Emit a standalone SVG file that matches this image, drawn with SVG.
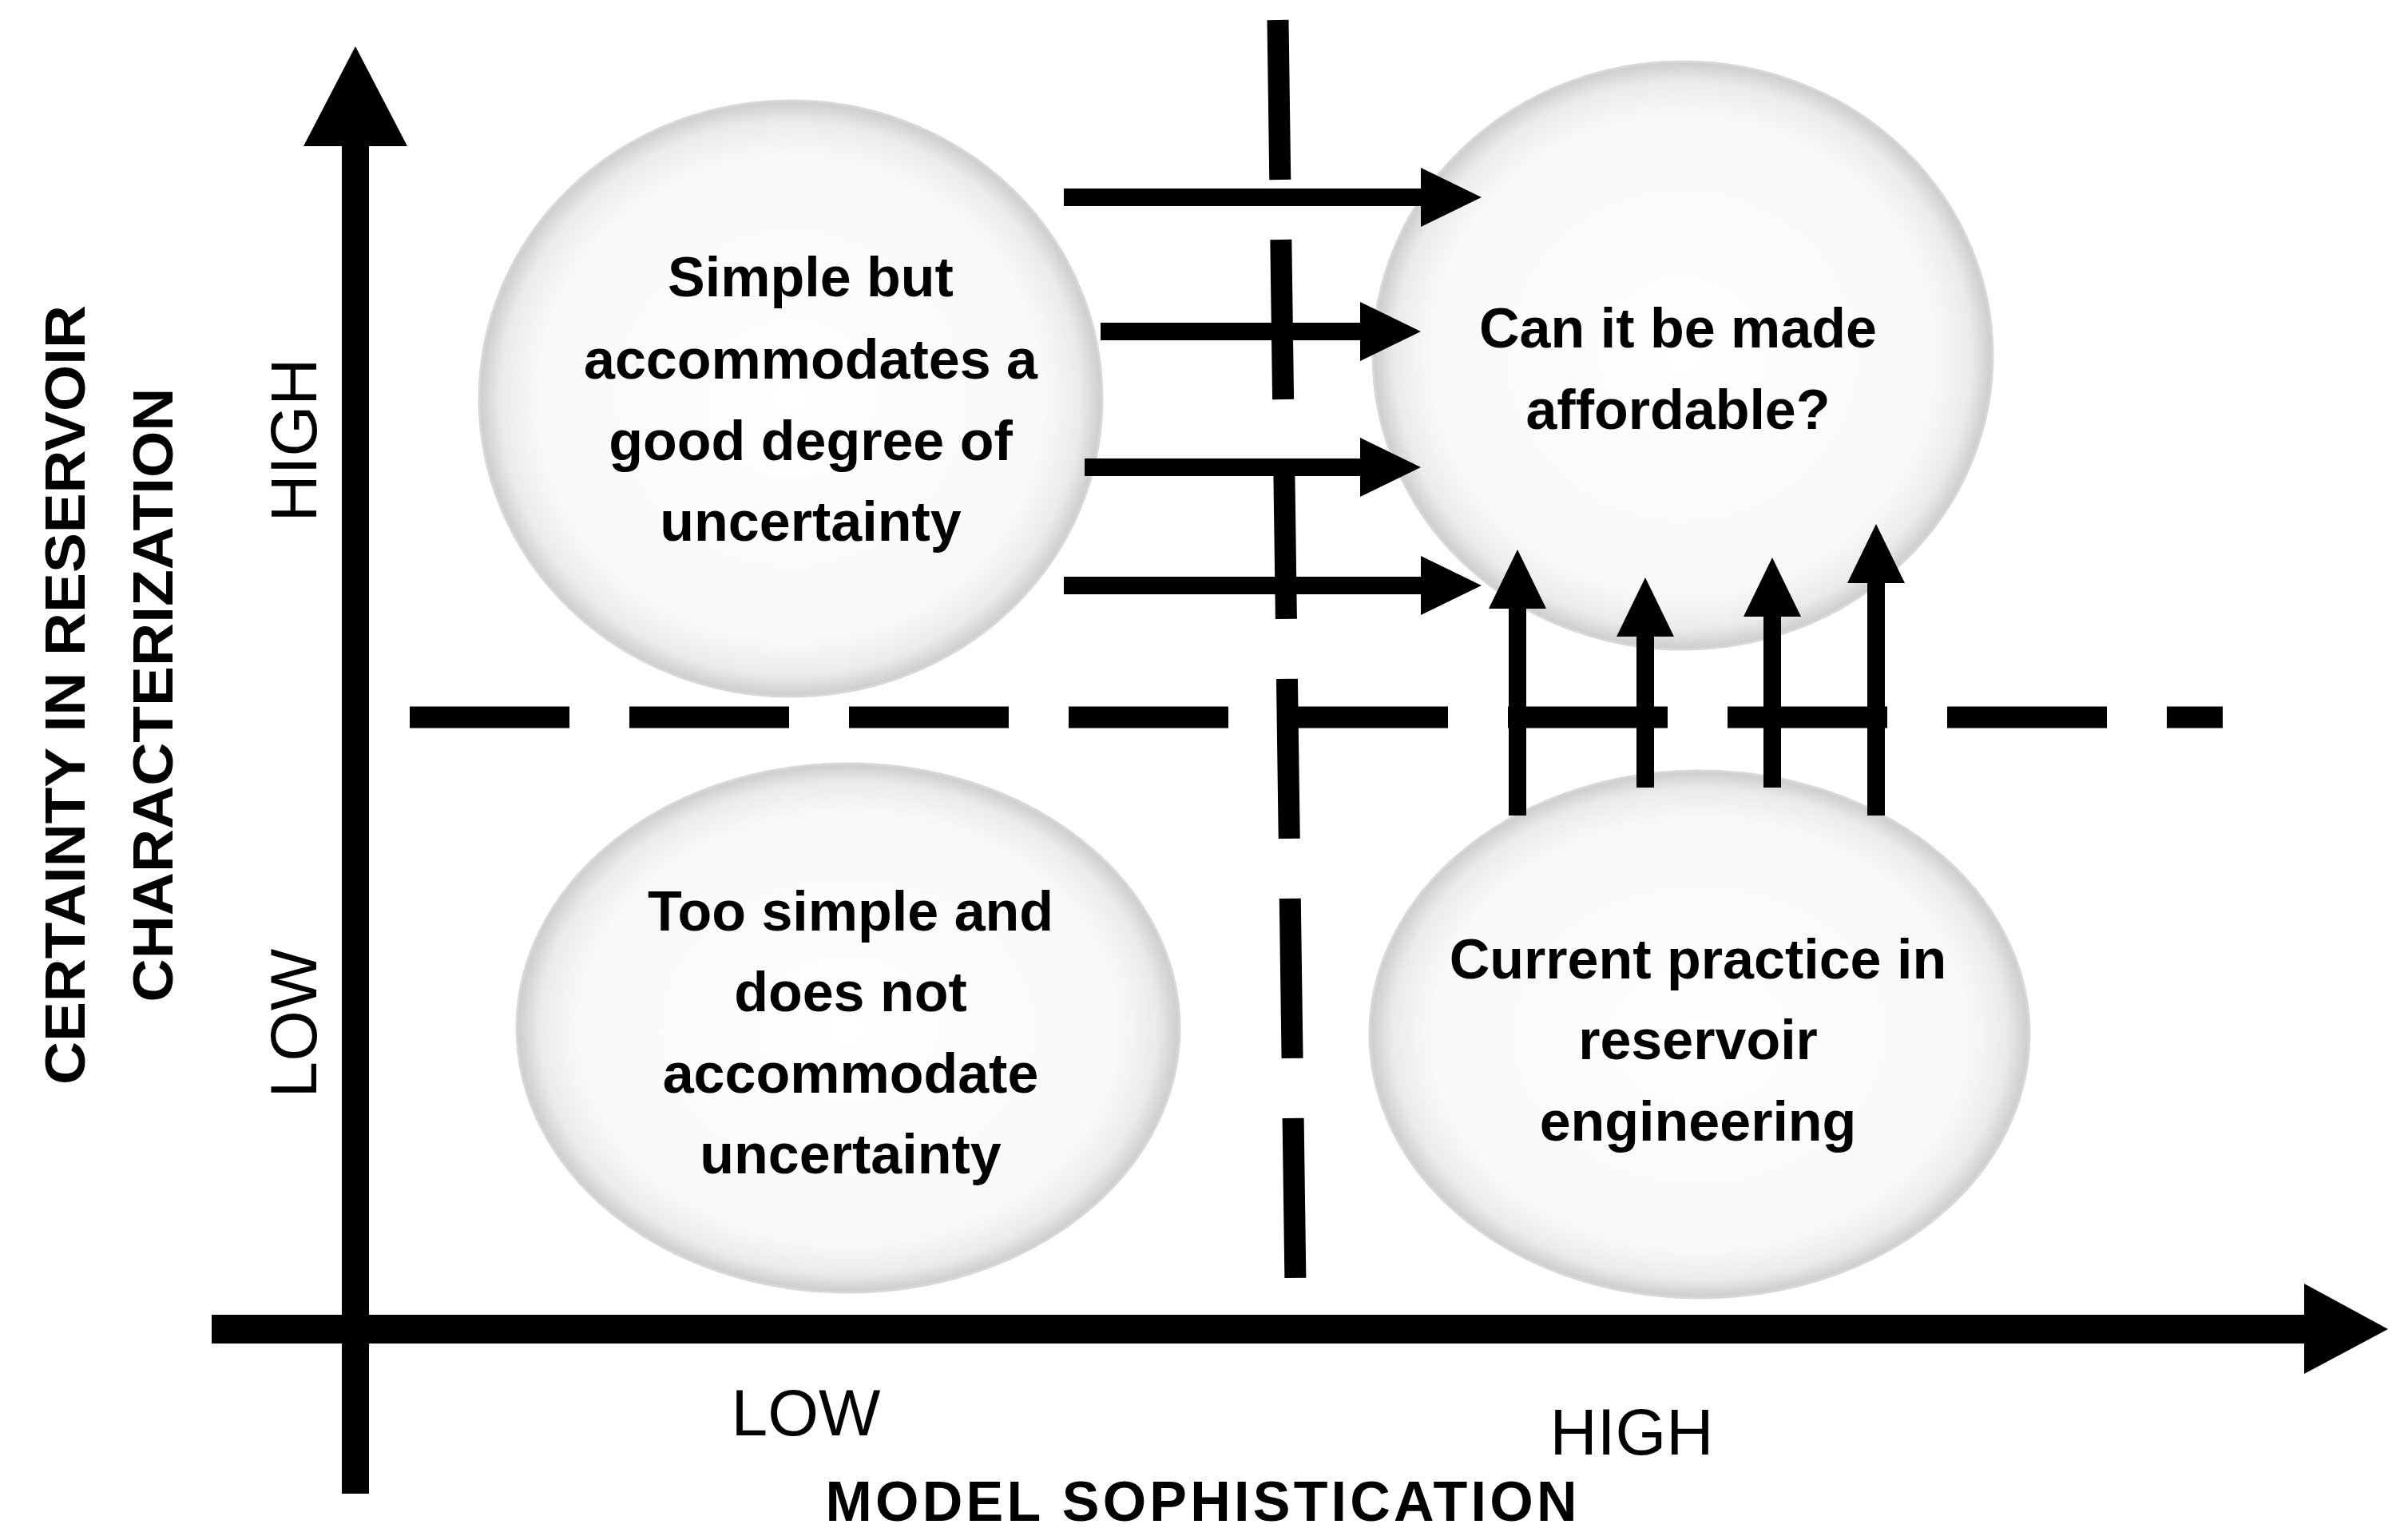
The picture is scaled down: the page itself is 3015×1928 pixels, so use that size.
<svg xmlns="http://www.w3.org/2000/svg" width="3015" height="1928" viewBox="0 0 3015 1928">
<style>
.b{font-family:"Liberation Sans Narrow","Liberation Sans",Arial,sans-serif;font-weight:bold;font-size:70px;fill:#000;text-anchor:middle}
.ax{font-family:"Liberation Sans Narrow","Liberation Sans",Arial,sans-serif;font-size:82px;fill:#000;text-anchor:middle}
.w{font-family:"Liberation Sans",Arial,sans-serif;font-weight:900;font-size:70px;fill:#000;text-anchor:middle}
.e{fill:url(#g);stroke:#d8d8d8;stroke-width:3}
.d{stroke:#000;stroke-width:27;fill:none;stroke-dasharray:200 75}
.s{stroke:#000;stroke-width:22;fill:none}
</style>
<defs>
<radialGradient id="g" cx="0.5" cy="0.5" r="0.5">
<stop offset="0" stop-color="#ffffff"/>
<stop offset="0.82" stop-color="#f8f8f8"/>
<stop offset="0.93" stop-color="#ebebeb"/>
<stop offset="1" stop-color="#cccccc"/>
</radialGradient>
</defs>
<rect width="3015" height="1928" fill="#fff"/>
<g id="n-tl"><ellipse class="e" cx="990" cy="499" rx="390" ry="373"/>
<text class="b" x="1015" y="371">Simple but</text><text class="b" x="1015" y="474">accommodates a</text><text class="b" x="1015" y="576">good degree of</text><text class="b" x="1015" y="677">uncertainty</text></g>
<g id="n-tr"><ellipse class="e" cx="2107" cy="445" rx="388" ry="368"/>
<text class="b" x="2101" y="435">Can it be made</text><text class="b" x="2101" y="537">affordable?</text></g>
<g id="n-bl"><ellipse class="e" cx="1062" cy="1287" rx="415" ry="331"/>
<text class="b" x="1065" y="1165">Too simple and</text><text class="b" x="1065" y="1266">does not</text><text class="b" x="1065" y="1368">accommodate</text><text class="b" x="1065" y="1469">uncertainty</text></g>
<g id="n-br"><ellipse class="e" cx="2128" cy="1295" rx="413" ry="330"/>
<text class="b" x="2126" y="1225">Current practice in</text><text class="b" x="2126" y="1326">reservoir</text><text class="b" x="2126" y="1428">engineering</text></g>
<g id="connectors">
<line class="d" x1="513" y1="898" x2="2783" y2="898"/>
<line class="d" x1="1600" y1="25" x2="1622" y2="1610"/>
<rect x="428" y="170" width="34" height="1700"/>
<polygon points="445,58 380,183 510,183"/>
<rect x="265" y="1646" width="2630" height="36"/>
<polygon points="2990,1664 2885,1607 2885,1720"/>
<line class="s" x1="1332" y1="247" x2="1785" y2="247"/><polygon points="1855,247 1779,210 1779,284"/>
<line class="s" x1="1378" y1="415" x2="1710" y2="415"/><polygon points="1779,415 1703,378 1703,452"/>
<line class="s" x1="1358" y1="585" x2="1710" y2="585"/><polygon points="1779,585 1703,548 1703,622"/>
<line class="s" x1="1332" y1="733" x2="1785" y2="733"/><polygon points="1855,733 1779,696 1779,770"/>
<line class="s" x1="1900" y1="1021" x2="1900" y2="750"/><polygon points="1900,688 1864,762 1936,762"/>
<line class="s" x1="2060" y1="986" x2="2060" y2="785"/><polygon points="2060,723 2024,797 2096,797"/>
<line class="s" x1="2219" y1="986" x2="2219" y2="760"/><polygon points="2219,698 2183,772 2255,772"/>
<line class="s" x1="2349" y1="1021" x2="2349" y2="718"/><polygon points="2349,656 2313,730 2385,730"/>
</g>
<text class="ax" x="1009" y="1797">LOW</text>
<text class="ax" x="2043" y="1821">HIGH</text>
<text class="b" x="1504" y="1904" font-size="80" textLength="941">MODEL SOPHISTICATION</text>
<text class="ax" transform="translate(396,551) rotate(-90)">HIGH</text>
<text class="ax" transform="translate(396,1281) rotate(-90)">LOW</text>
<text class="w" transform="translate(106,870) rotate(-90)" textLength="976" lengthAdjust="spacingAndGlyphs">CERTAINTY IN RESERVOIR</text>
<text class="w" transform="translate(216,870) rotate(-90)" textLength="769" lengthAdjust="spacingAndGlyphs">CHARACTERIZATION</text>
</svg>
